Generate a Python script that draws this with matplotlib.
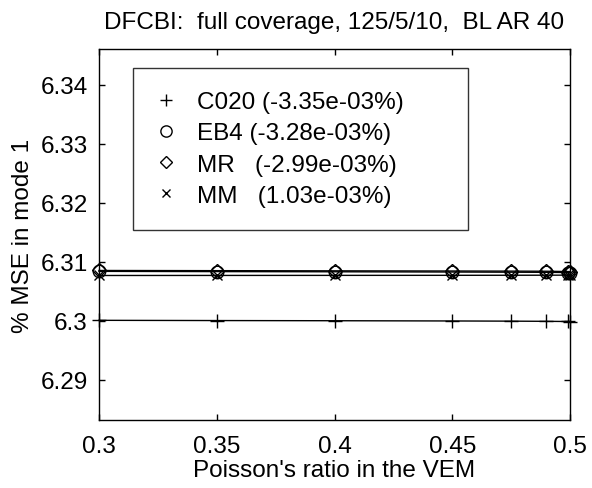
import matplotlib
matplotlib.use("Agg")
import matplotlib.pyplot as plt

plt.rcParams['font.family'] = ['Liberation Sans', 'DejaVu Sans']

poisson = [0.3, 0.35, 0.4, 0.45, 0.475, 0.49, 0.499, 0.4999]
c020 = [6.30010, 6.30006, 6.30003, 6.29999, 6.29996, 6.29993, 6.29990, 6.29989]
eb4 = [6.30840, 6.30836, 6.30833, 6.30829, 6.30826, 6.30824, 6.30820, 6.30819]
mr = [6.30855, 6.30852, 6.30849, 6.30846, 6.30844, 6.30842, 6.30837, 6.30836]
mm = [6.30770, 6.30771, 6.30772, 6.30773, 6.30774, 6.30775, 6.30776, 6.30776]

labels = ["C020 (-3.35e-03%)", "EB4 (-3.28e-03%)", "MR   (-2.99e-03%)", "MM   (1.03e-03%)"]
markers = ['+', 'o', 'D', 'x']
series = [c020, eb4, mr, mm]

fig = plt.figure(figsize=(5.92, 4.89), dpi=100)
ax = fig.add_axes([99/592, 1-421/489, 471/592, 371/489])

msizes = {'+': 10, 'o': 9, 'D': 7, 'x': 7}
for y, m, lab in zip(series, markers, labels):
    ax.plot(poisson, y, color='black', lw=1.0, marker=m, ms=msizes[m],
            mfc='none', mec='black', mew=1.0, label=lab, clip_on=False)

FS = 17.5
ax.set_xlim(0.3, 0.5)
ax.set_ylim(6.2832, 6.3461)
ax.set_xticks([0.3, 0.35, 0.4, 0.45, 0.5])
ax.set_xticklabels(['0.3', '0.35', '0.4', '0.45', '0.5'])
ax.set_yticks([6.29, 6.30, 6.31, 6.32, 6.33, 6.34])
ax.set_yticklabels(['6.29', '6.3', '6.31', '6.32', '6.33', '6.34'])
ax.tick_params(axis='x', direction='in', top=True, length=4, width=1,
               labelsize=FS, pad=11)
ax.tick_params(axis='y', direction='in', right=True, length=4, width=1,
               labelsize=FS, pad=8)
for s in ax.spines.values():
    s.set_linewidth(1.0)

ax.set_xlabel("Poisson's ratio in the VEM", fontsize=FS, labelpad=1)
ax.set_ylabel("% MSE in mode 1", fontsize=FS, labelpad=5)
ax.set_title("DFCBI:  full coverage, 125/5/10,  BL AR 40", fontsize=FS, pad=15)

leg = ax.legend(loc='upper left', bbox_to_anchor=(0.072, 0.949, 0.711, 0.0),
                mode='expand', fontsize=FS, frameon=True, fancybox=False,
                edgecolor='black', handlelength=0.8, handletextpad=0.9,
                borderpad=0.95, labelspacing=0.38, borderaxespad=0.0,
                markerscale=0.9)
leg.get_frame().set_linewidth(1.0)
for h in leg.legend_handles:
    h.set_linestyle('none')

fig.savefig('out.png', dpi=100)
